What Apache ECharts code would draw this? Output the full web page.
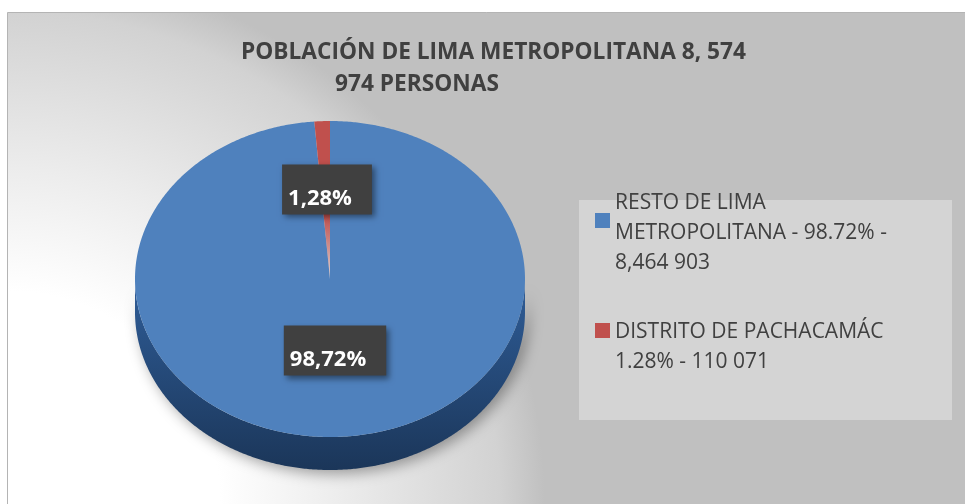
<!DOCTYPE html>
<html><head><meta charset="utf-8">
<script src="https://cdn.jsdelivr.net/npm/echarts@6/dist/echarts.min.js"></script>
<style>html,body{margin:0;padding:0;background:#fff}#c{width:965px;height:504px}</style>
</head><body><div id="c"></div>
<script>
// ---- data ----
const categories = [
  'RESTO DE LIMA\nMETROPOLITANA - 98.72% -\n8,464 903',
  'DISTRITO DE PACHACAMÁC\n1.28% - 110 071'
];
const populationValues = [8464903, 110071];
const titleLines = ['POBLACIÓN DE LIMA METROPOLITANA 8, 574', '974 PERSONAS'];

// ---- geometry / styles ----
const G = { cx: 330, cy: 279, rx: 195, ry: 158, depth: 33, labelFrac: 0.51, labelShiftX: -6 };
const LABEL_FONT = 'bold 22px "Open Sans"';
const total = populationValues.reduce((a, b) => a + b, 0);

const measureCtx = document.createElement('canvas').getContext('2d');
function textWidth(t, font) { measureCtx.font = font; return measureCtx.measureText(t).width; }

function fmtPct(v) {
  return (v / total * 100).toFixed(2).replace('.', ',') + '%';
}
function ellPoint(a, cy) {
  return [G.cx + G.rx * Math.cos(a), cy + G.ry * Math.sin(a)];
}
function sample(a0, a1, cy) {
  const pts = [];
  const n = Math.max(2, Math.ceil(Math.abs(a1 - a0) / (Math.PI / 360)));
  for (let k = 0; k <= n; k++) pts.push(ellPoint(a0 + (a1 - a0) * k / n, cy));
  return pts;
}

function makeRender(i) {
  return function (params, api) {
    let before = 0;
    for (let j = 0; j < i; j++) before += populationValues[j];
    const a0 = -Math.PI / 2 + 2 * Math.PI * before / total;
    const a1 = a0 + 2 * Math.PI * populationValues[i] / total;
    const color = api.visual('color');
    const children = [];
    // side wall (front half only)
    [[0, Math.PI], [2 * Math.PI, 3 * Math.PI]].forEach(function (rng) {
      const from = Math.max(a0, rng[0]), to = Math.min(a1, rng[1]);
      if (to > from) {
        const top = sample(from, to, G.cy);
        const bot = sample(to, from, G.cy + G.depth);
        children.push({
          type: 'polygon', z2: 0,
          shape: { points: top.concat(bot) },
          style: {
            fill: i === 0 ? {
              type: 'linear', global: true, x: 0, y: G.cy, x2: 0, y2: G.cy + G.ry + G.depth,
              colorStops: [{ offset: 0, color: '#2f5d98' }, { offset: 1, color: '#1b3659' }]
            } : '#8c3331',
            shadowBlur: 14, shadowColor: 'rgba(0,0,0,0.35)', shadowOffsetX: 4, shadowOffsetY: 4
          }
        });
      }
    });
    // top face
    const facePts = [[G.cx, G.cy]].concat(sample(a0, a1, G.cy));
    children.push({
      type: 'polygon', z2: 1,
      shape: { points: facePts },
      style: {
        fill: i === 1 ? {
          type: 'linear', global: true, x: 0, y: G.cy - G.ry, x2: 0, y2: G.cy,
          colorStops: [{ offset: 0, color: '#c0504d' }, { offset: 0.6, color: '#c0504d' },
                       { offset: 1, color: 'rgba(192,80,77,0.1)' }]
        } : color
      }
    });
    // data label (dark box + white text)
    const mid = (a0 + a1) / 2;
    const tx = G.cx + G.labelFrac * G.rx * Math.cos(mid) + G.labelShiftX;
    const ty = G.cy + G.labelFrac * G.ry * Math.sin(mid);
    const txt = fmtPct(populationValues[i]);
    const w = textWidth(txt, LABEL_FONT);
    children.push({
      type: 'rect', z2: 4,
      shape: { x: tx - w / 2 - 6, y: ty - 34, width: w + 26, height: 50 },
      style: { fill: '#404040', shadowBlur: 6, shadowColor: 'rgba(0,0,0,0.45)', shadowOffsetX: 3, shadowOffsetY: 3 }
    });
    children.push({
      type: 'text', z2: 5,
      style: {
        text: txt, x: tx, y: ty, align: 'center', verticalAlign: 'middle',
        font: LABEL_FONT, fill: '#ffffff'
      }
    });
    return { type: 'group', children: children };
  };
}

const legendPads = [25, 33];
const legendTops = [163, 284];
const titleStyle = { fontFamily: 'Open Sans', fontWeight: 'bold', fontSize: 22.7, color: '#404040' };

const chart = echarts.init(document.getElementById('c'), null, { renderer: 'canvas' });
chart.setOption({
  animation: false,
  color: ['#4f81bd', '#c0504d'],
  graphic: [
    {
      type: 'rect', z: -10, silent: true,
      shape: { x: 7.5, y: 12.5, width: 965, height: 500 },
      style: {
        fill: {
          type: 'radial', global: true, x: 7, y: 504, r: 560,
          colorStops: [{ offset: 0, color: '#ffffff' }, { offset: 0.38, color: '#ffffff' },
                       { offset: 0.6, color: '#ececec' }, { offset: 0.88, color: '#d2d2d2' },
                       { offset: 0.96, color: '#c0c0c0' }, { offset: 1, color: '#c0c0c0' }]
        },
        stroke: '#b4b4b4', lineWidth: 1
      }
    },
    {
      type: 'rect', z: -5, silent: true,
      shape: { x: 579, y: 200, width: 373, height: 220 },
      style: { fill: '#d4d4d4' }
    }
  ],
  title: [
    { text: titleLines[0], left: 241, top: 41, padding: 0, textStyle: titleStyle },
    { text: titleLines[1], left: 335, top: 73, padding: 0, textStyle: titleStyle }
  ],
  legend: categories.map(function (name, i) {
    const rich = { t: { fontFamily: 'Open Sans', fontSize: 21, color: '#404040', lineHeight: 30 } };
    rich['p' + i] = { fontSize: 10, lineHeight: legendPads[i], height: legendPads[i] };
    return {
      orient: 'vertical', left: 595, top: legendTops[i], padding: 0,
      icon: 'rect', itemWidth: 15, itemHeight: 15, selectedMode: false,
      data: [{ name: name }],
      formatter: function (n) {
        return '{p' + i + '| }\n' + n.split('\n').map(function (s) { return '{t|' + s + '}'; }).join('\n');
      },
      textStyle: { rich: rich }
    };
  }),
  series: categories.map(function (name, i) {
    return {
      type: 'custom', name: name, coordinateSystem: 'none',
      itemStyle: { color: i === 0 ? '#4f81bd' : '#c0504d' },
      renderItem: makeRender(i),
      data: [populationValues[i]]
    };
  })
});
</script>
</body></html>
